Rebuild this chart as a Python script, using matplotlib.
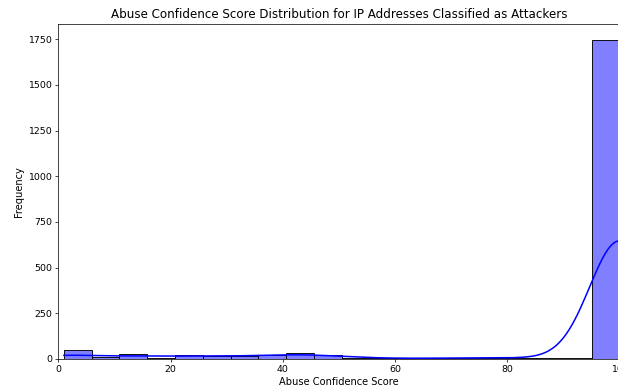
import numpy as np
import matplotlib
matplotlib.use("Agg")
import matplotlib.pyplot as plt
import seaborn as sns

# Representative score values per bin and their counts
score_values = [1, 8, 13, 18, 23, 28, 33, 38, 43, 48, 53, 58, 63, 68, 73, 78, 83, 88, 93, 100]
counts = [48, 9, 27, 8, 20, 16, 16, 20, 31, 20, 8, 4, 3, 5, 6, 6, 6, 8, 4, 1745]

title = "Abuse Confidence Score Distribution for IP Addresses Classified as Attackers"
xlabel = "Abuse Confidence Score"
ylabel = "Frequency"

scores = np.repeat(np.array(score_values, dtype=float), counts)

DPI = 65
fig = plt.figure(figsize=(618 / DPI, 392 / DPI), dpi=DPI)
ax = fig.add_axes([58.3 / 618, 33 / 392, (619.6 - 58.3) / 618, (359 - 24.3) / 392])

sns.histplot(scores, bins=20, binrange=(1, 100), kde=True, color="blue", ax=ax,
             kde_kws={"cut": 3, "clip": (1, 100)}, line_kws={"linewidth": 1.7})

ax.set_xlim(0, 100)
ax.set_title(title, fontsize=13.2, pad=7)
ax.set_xlabel(xlabel, fontsize=11, labelpad=3)
ax.set_ylabel(ylabel, fontsize=11)
ax.tick_params(labelsize=10.4)

fig.savefig("out.png", dpi=DPI)
